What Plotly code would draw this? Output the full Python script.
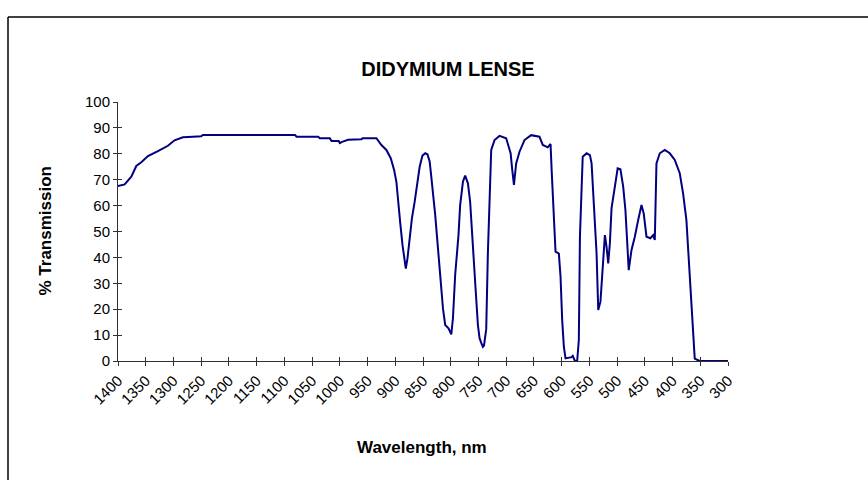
import plotly.graph_objects as go

# ---- data ----
wavelength_nm = [
    1400, 1388, 1376, 1367, 1358, 1346, 1328, 1310, 1298, 1283,
    1265, 1250, 1247, 1200, 1150, 1100, 1081, 1078, 1039, 1036,
    1018, 1015, 1002, 1000, 996, 985, 973, 961, 959, 934,
    925, 916, 908, 902, 898, 895, 891, 887, 883, 881,
    878, 874, 870, 865, 860, 856, 851, 846, 842, 838,
    836, 832, 828, 823, 818, 814, 810, 804, 799, 796,
    792, 786, 783, 778, 774, 769, 765, 760, 756, 751,
    748, 745, 742, 740, 736, 733, 730, 727, 721, 712,
    700, 692, 689, 686, 682, 676, 667, 655, 640, 634,
    625, 620, 618, 614, 611, 605, 602, 599, 596, 593,
    582, 580, 576, 572, 569, 567, 564, 562, 555, 549,
    546, 542, 537, 534, 530, 527, 522, 519, 516, 513,
    510, 504, 499, 494, 489, 485, 482, 479, 474, 468,
    462, 456, 452, 447, 440, 435, 432, 429, 423, 414,
    405, 396, 387, 381, 375, 370, 366, 363, 360, 351,
    300,
]
transmission_pct = [
    67.6, 68.2, 71.2, 75.3, 76.7, 79.1, 81.0, 83.1, 85.2, 86.4,
    86.6, 86.8, 87.3, 87.3, 87.3, 87.3, 87.3, 86.6, 86.6, 86.0,
    86.0, 84.9, 84.9, 84.1, 84.6, 85.4, 85.6, 85.6, 86.0, 86.0,
    83.4, 81.5, 78.2, 73.7, 69.2, 61.5, 53.2, 44.8, 37.0, 35.7,
    39.6, 48.6, 55.1, 61.5, 69.2, 75.0, 79.3, 80.2, 79.8, 77.0,
    73.1, 65.4, 56.4, 43.5, 29.3, 20.3, 13.9, 12.6, 10.3, 16.5,
    33.2, 48.6, 60.2, 69.2, 71.6, 68.6, 61.5, 46.1, 30.6, 13.9,
    8.8, 7.0, 5.5, 6.0, 12.3, 41.7, 65.4, 81.5, 85.3, 86.9,
    86.0, 80.2, 73.7, 68.0, 76.3, 80.8, 85.3, 87.2, 86.6, 83.4,
    82.5, 83.8, 73.7, 51.9, 42.2, 41.5, 32.6, 15.8, 5.5, 1.0,
    1.5, 2.0, 0.0, 0.0, 8.1, 48.0, 67.3, 78.9, 80.2, 79.5,
    76.3, 60.9, 41.6, 19.7, 22.9, 32.6, 48.6, 44.1, 37.7, 45.5,
    59.0, 67.3, 74.4, 74.0, 67.3, 58.3, 47.4, 35.1, 42.9, 48.0,
    54.4, 60.2, 57.0, 48.0, 47.4, 48.6, 46.7, 76.3, 80.2, 81.5,
    80.2, 77.6, 72.5, 64.7, 54.4, 35.1, 21.0, 8.1, 0.9, 0.0,
    0.0,
]
x_ticks = list(range(1400, 299, -50))
x_tick_labels = [str(v) for v in x_ticks]
y_ticks = list(range(0, 101, 10))

title_text = "DIDYMIUM LENSE"
x_title = "Wavelength, nm"
y_title = "% Transmission"

FONT = "Liberation Sans, Arial, sans-serif"
AXIS_COLOR = "#303030"

W, H = 868, 480
L, R, T, B = 118, 140, 102, 119
PW, PH = W - L - R, H - T - B


def px_to_paper_x(px):
    return (px - L) / PW


def px_to_paper_y(py):
    return (H - B - py) / PH


fig = go.Figure()
fig.add_trace(go.Scatter(
    x=wavelength_nm, y=transmission_pct, mode="lines",
    line=dict(color="#000080", width=2), showlegend=False,
    hoverinfo="x+y",
))
# invisible trace to host the overlay axes (inside half of the cross ticks)
fig.add_trace(go.Scatter(
    x=[x_ticks[0]], y=[0], xaxis="x2", yaxis="y2", mode="markers",
    marker=dict(opacity=0), showlegend=False, hoverinfo="skip",
))

common_axis = dict(
    showgrid=False, zeroline=False, showline=True, linecolor=AXIS_COLOR,
    linewidth=1, tickcolor=AXIS_COLOR, ticklen=4, tickwidth=1,
)

fig.update_layout(
    width=W, height=H,
    margin=dict(l=L, r=R, t=T, b=B, pad=0),
    paper_bgcolor="white", plot_bgcolor="white",
    font=dict(family=FONT, size=15, color="black"),
    xaxis=dict(
        **common_axis, range=[1400, 300], ticks="outside",
        tickmode="array", tickvals=x_ticks, ticktext=x_tick_labels,
        tickangle=-45, tickfont=dict(size=15),
    ),
    yaxis=dict(
        **common_axis, range=[0, 100], ticks="outside",
        tickmode="array", tickvals=y_ticks, tickfont=dict(size=15),
    ),
    xaxis2=dict(
        **common_axis, range=[1400, 300], ticks="inside", overlaying="x",
        anchor="y2", tickmode="array", tickvals=x_ticks, showticklabels=False,
    ),
    yaxis2=dict(
        **common_axis, range=[0, 100], ticks="inside", overlaying="y",
        anchor="x2", tickmode="array", tickvals=y_ticks, showticklabels=False,
    ),
    title=dict(
        text=f"<b>{title_text}</b>", x=448 / W, y=1 - 69 / H,
        xanchor="center", yanchor="middle",
        font=dict(family=FONT, size=20, color="black"),
    ),
    annotations=[
        dict(text=f"<b>{x_title}</b>", xref="paper", yref="paper",
             x=px_to_paper_x(422), y=px_to_paper_y(447),
             xanchor="center", yanchor="middle", showarrow=False,
             font=dict(family=FONT, size=17, color="black")),
        dict(text=f"<b>{y_title}</b>", xref="paper", yref="paper",
             x=px_to_paper_x(45), y=0.5, textangle=-90,
             xanchor="center", yanchor="middle", showarrow=False,
             font=dict(family=FONT, size=17, color="black")),
    ],
    shapes=[
        dict(type="line", xref="paper", yref="paper",
             x0=px_to_paper_x(8), x1=px_to_paper_x(8),
             y0=px_to_paper_y(17), y1=px_to_paper_y(500),
             line=dict(color="black", width=1.5)),
        dict(type="line", xref="paper", yref="paper",
             x0=px_to_paper_x(8), x1=px_to_paper_x(900),
             y0=px_to_paper_y(17), y1=px_to_paper_y(17),
             line=dict(color="black", width=1.5)),
    ],
)

assert len(wavelength_nm) == len(transmission_pct)
fig.write_html("out.html")
